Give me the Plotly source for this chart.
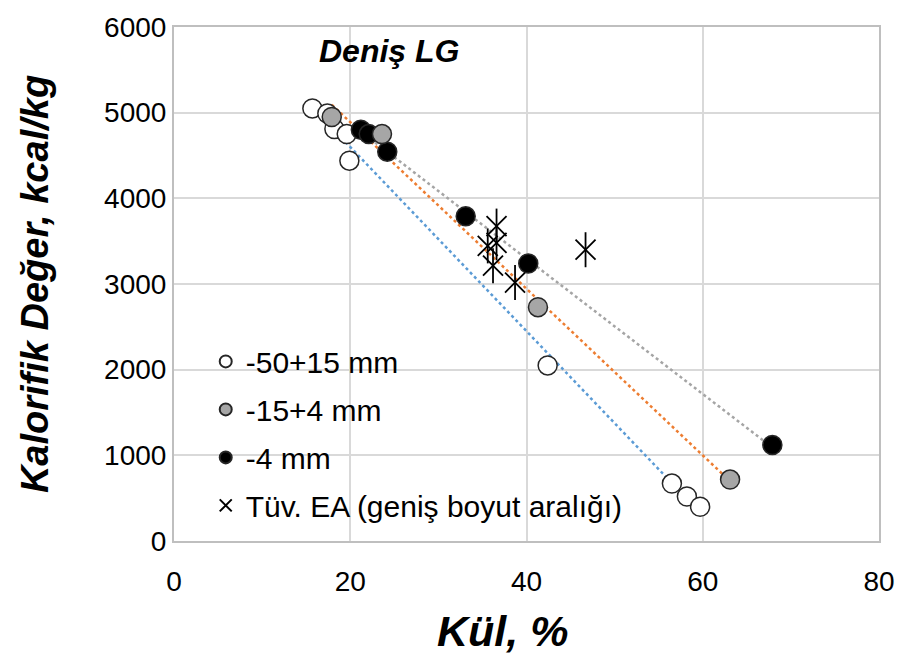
import numpy as np
import plotly.graph_objects as go

# ---- data ----
x_50_15 = [15.7, 17.4, 18.2, 19.6, 19.9, 42.4, 56.5, 58.2, 59.7]
y_50_15 = [5050, 4990, 4810, 4750, 4440, 2050, 670, 520, 400]

x_15_4 = [17.9, 23.6, 41.3, 63.1]
y_15_4 = [4950, 4750, 2730, 717]

x_4 = [21.2, 22.1, 24.2, 33.1, 40.2, 67.9]
y_4 = [4800, 4750, 4545, 3790, 3240, 1120]

x_tuv = [36.6, 35.6, 36.6, 36.2, 38.7, 46.7]
y_tuv = [3676, 3445, 3480, 3214, 3017, 3400]

names = ["-50+15 mm", "-15+4 mm", "-4 mm", "Tüv. EA (geniş boyut aralığı)"]
x_ticks = [0, 20, 40, 60, 80]
y_ticks = [0, 1000, 2000, 3000, 4000, 5000, 6000]

FONT = "Liberation Sans, Arial, sans-serif"
fig = go.Figure()

def trend(xs, ys, color):
    k, b = np.polyfit(xs, ys, 1)
    xx = np.array([min(xs), max(xs)])
    fig.add_trace(go.Scatter(x=xx, y=k * xx + b, mode="lines",
                             line=dict(color=color, width=2.5, dash="dot"),
                             showlegend=False, hoverinfo="skip"))

trend(x_50_15, y_50_15, "#5B9BD5")
trend(x_15_4, y_15_4, "#ED7D31")
trend(x_4, y_4, "#A5A5A5")

mk = dict(size=19, line=dict(color="#262626", width=1.5))
fig.add_trace(go.Scatter(x=x_50_15, y=y_50_15, mode="markers", name=names[0],
                         legendgroup="a", legendrank=1, marker=dict(color="white", **mk)))
fig.add_trace(go.Scatter(x=x_4, y=y_4, mode="markers", name=names[2],
                         legendgroup="c", legendrank=3, marker=dict(color="black", **mk)))
fig.add_trace(go.Scatter(x=x_15_4, y=y_15_4, mode="markers", name=names[1],
                         legendgroup="b", legendrank=2, marker=dict(color="#A6A6A6", **mk)))
fig.add_trace(go.Scatter(x=x_tuv, y=y_tuv, mode="markers", name=names[3],
                         legendgroup="d", legendrank=4,
                         marker=dict(symbol="x-thin-open", size=20, color="black",
                                     line=dict(color="black", width=1.8))))
fig.add_trace(go.Scatter(x=x_tuv, y=y_tuv, mode="markers", showlegend=False,
                         legendgroup="d",
                         marker=dict(symbol="line-ns-open", size=25, color="black",
                                     line=dict(color="black", width=1.8))))

fig.add_annotation(text="<b><i>Deniş LG</i></b>", x=24.4, y=5720, xref="x", yref="y",
                   showarrow=False, font=dict(family=FONT, size=32, color="black"))
fig.add_annotation(text="<b><i>Kül, %</i></b>", x=0.466, y=-0.175, xref="paper", yref="paper",
                   xanchor="center", yanchor="middle", showarrow=False,
                   font=dict(family=FONT, size=43, color="black"))

axis_common = dict(showgrid=True, gridcolor="#D9D9D9", gridwidth=1.5,
                   showline=True, linecolor="#BFBFBF", linewidth=2, mirror=True,
                   zeroline=False, ticks="",
                   tickfont=dict(family=FONT, size=28, color="black"))

fig.update_layout(
    width=907, height=656,
    margin=dict(l=174, r=23, t=22, b=115),
    paper_bgcolor="white", plot_bgcolor="white",
    showlegend=True,
    legend=dict(x=0.045, y=0.40, xanchor="left", yanchor="top",
                bgcolor="rgba(0,0,0,0)", font=dict(family=FONT, size=30, color="black"),
                traceorder="grouped", tracegroupgap=6, itemsizing="constant"),
    xaxis=dict(range=[0, 80], tickvals=x_ticks, ticklabelstandoff=14,
               **axis_common),
    yaxis=dict(range=[0, 6000], tickvals=y_ticks,
               title=dict(text="<b><i>Kalorifik Değer, kcal/kg</i></b>", standoff=44,
                          font=dict(family=FONT, size=38, color="black")),
               **axis_common),
)

fig.write_html("out.html")
